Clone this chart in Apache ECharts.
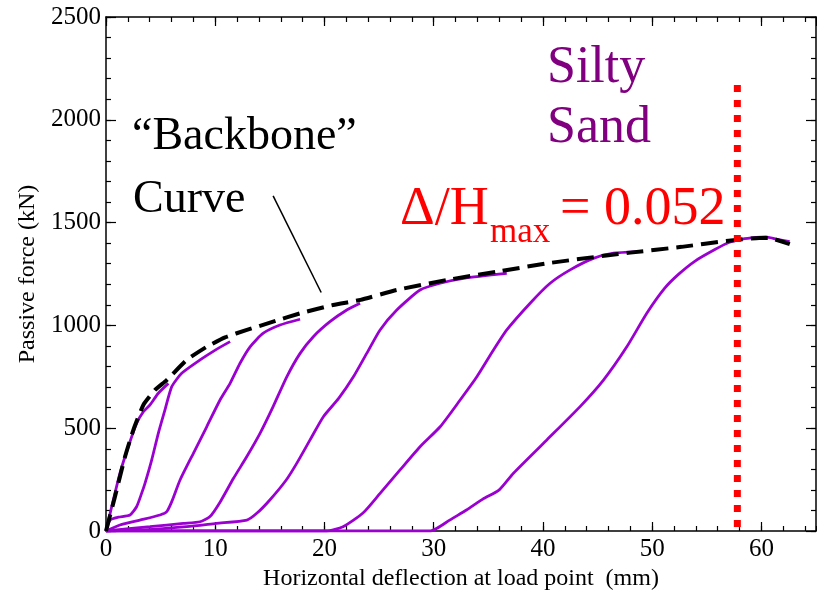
<!DOCTYPE html>
<html>
<head>
<meta charset="utf-8">
<script src="https://cdn.jsdelivr.net/npm/echarts@6/dist/echarts.min.js"></script>
<style>
  html, body { margin: 0; padding: 0; background: #fff; }
  #chart-container { width: 817px; height: 597px; }
</style>
</head>
<body>
<div id="chart-container"></div>
<script>
// deflection (mm), force (kN)
var backbone = [[0,0],[0.82,167],[1.74,361],[2.5,491],[3.42,613],[4.49,686],[5.56,734],[7.39,832],[9.22,896],[10.9,942],[12.9,978],[15.3,1018],[17.8,1059],[20.8,1099],[23.3,1124],[26.6,1172],[31.2,1221],[35.8,1261],[40.4,1302],[45.8,1340],[48.0,1354],[52.7,1382],[57.0,1412],[59.8,1425],[60.7,1425],[62.6,1395]];

var loop1 = [[0,0],[0.52,118],[1.28,282],[2.04,410],[2.81,524],[3.42,580],[4.03,613],[4.79,670],[5.71,718]];
var loop2 = [[0,0],[0.37,53],[1.13,67],[2.2,78],[2.8,118],[3.26,183],[3.57,232],[4.18,345],[4.79,475],[5.4,589],[6.02,702],[6.93,767],[8.61,832],[10.0,880],[11.36,921]];
var loop3 = [[0,0],[1.28,29],[3.11,53],[4.95,78],[5.56,94],[6.02,143],[6.78,248],[8.0,378],[9.22,507],[10.44,637],[11.36,718],[12.27,816],[13.19,896],[14.4,962],[15.93,1002],[17.77,1030]];
var loop4 = [[0,0],[4.03,21],[7.08,37],[8.61,45],[9.52,70],[10.44,140],[11.66,255],[12.88,361],[14.1,475],[15.3,605],[16.55,750],[17.77,864],[18.98,945],[20.5,1018],[22.04,1075],[23.26,1108]];
var loop5 = [[0,0],[3.42,5],[7.39,21],[10.1,37],[12.9,53],[13.8,86],[15.0,151],[16.5,248],[17.46,329],[18.68,443],[19.9,556],[21.3,645],[22.65,750],[23.87,864],[25.09,978],[26.62,1075],[28.75,1172],[30.59,1205],[32.72,1229],[36.69,1253]];
var loop6 = [[0,0],[20.2,0],[21.7,21],[23.5,86],[25.09,183],[26.92,297],[28.75,410],[30.59,507],[32.42,637],[33.95,750],[35.47,880],[36.69,978],[38.83,1108],[40.66,1205],[42.49,1270],[44.62,1326],[46.46,1351],[48.6,1359]];
var loop7 = [[0,0],[29.7,0],[30.3,13],[31.5,54],[33.0,102],[34.5,155],[36.0,200],[37.3,281],[40.36,443],[43.4,605],[45.54,734],[47.68,896],[49.51,1059],[51.15,1181],[52.38,1247],[53.93,1313],[55.78,1370],[57.01,1403],[58.26,1420],[59.5,1428],[60.42,1431],[61.35,1420],[62.59,1407]];

var limitLine = [[57.8,20],[57.8,2170]];
var leaderLine = [[15.3,1630],[19.7,1160]];

var serif = '"Liberation Serif", "Times New Roman", serif';
var purple = "#9a00d0";

var dom = document.getElementById("chart-container");
var myChart = echarts.init(dom, null, { renderer: "canvas" });

function plain(v) { return String(v); }

function xAx(pos, interval, len, main) {
  return {
    type: "value", position: pos, min: 0, max: 65, interval: interval,
    axisLine: { show: main, onZero: false, lineStyle: { color: "#000", width: 1.5 } },
    axisTick: { inside: true, length: len, lineStyle: { color: "#000", width: 1.2 } },
    axisLabel: { show: main && pos === "bottom", margin: 6, showMaxLabel: false, formatter: plain,
      fontFamily: serif, fontSize: 25, color: "#000" },
    splitLine: { show: false },
    name: main && pos === "bottom" ? "Horizontal deflection at load point  (mm)" : "",
    nameLocation: "middle", nameGap: 35,
    nameTextStyle: { fontFamily: serif, fontSize: 24, color: "#000" }
  };
}
function yAx(pos, interval, len, main) {
  return {
    type: "value", position: pos, min: 0, max: 2500, interval: interval,
    axisLine: { show: main, onZero: false, lineStyle: { color: "#000", width: 1.5 } },
    axisTick: { inside: true, length: len, lineStyle: { color: "#000", width: 1.2 } },
    axisLabel: { show: main && pos === "left", margin: 5, formatter: plain,
      fontFamily: serif, fontSize: 25, color: "#000" },
    splitLine: { show: false },
    name: main && pos === "left" ? "Passive force (kN)" : "",
    nameLocation: "middle", nameGap: 64,
    nameTextStyle: { fontFamily: serif, fontSize: 24, color: "#000" }
  };
}

function loopSeries(data) {
  return { type: "line", data: data, symbol: "none", z: 3, smooth: 0.2,
    lineStyle: { color: purple, width: 2.8 } };
}

var option = {
  animation: false,
  grid: { left: 106, right: 1, top: 17, bottom: 66 },
  xAxis: [xAx("bottom", 10, 9, true), xAx("bottom", 2, 5, false), xAx("top", 10, 9, true), xAx("top", 2, 5, false)],
  yAxis: [yAx("left", 500, 10, true), yAx("left", 100, 5, false), yAx("right", 500, 10, true), yAx("right", 100, 5, false)],
  series: [
    loopSeries(loop1), loopSeries(loop2), loopSeries(loop3), loopSeries(loop4),
    loopSeries(loop5), loopSeries(loop6), loopSeries(loop7),
    { type: "line", data: backbone, symbol: "none", z: 4, smooth: 0.15,
      lineStyle: { color: "#000", width: 4, type: [17, 8] } },
    { type: "line", data: limitLine, symbol: "none", z: 5,
      lineStyle: { color: "#ff0000", width: 7, type: [7, 8], cap: "butt" } },
    { type: "line", data: leaderLine, symbol: "none", z: 5,
      lineStyle: { color: "#000", width: 1.5 } }
  ],
  graphic: [
    { type: "text", x: 132, y: 137, style: { text: "\u201cBackbone\u201d", font: "46px " + serif, fill: "#000", align: "left", verticalAlign: "middle" } },
    { type: "text", x: 133, y: 200, style: { text: "Curve", font: "46px " + serif, fill: "#000", align: "left", verticalAlign: "middle" } },
    { type: "text", x: 547, y: 68, style: { text: "Silty", font: "52px " + serif, fill: "#800080", align: "left", verticalAlign: "middle" } },
    { type: "text", x: 547, y: 128, style: { text: "Sand", font: "52px " + serif, fill: "#800080", align: "left", verticalAlign: "middle" } },
    { type: "text", x: 400, y: 210, style: { text: "\u0394/H", font: "54px " + serif, fill: "#ff0000", align: "left", verticalAlign: "middle" } },
    { type: "text", x: 490, y: 233, style: { text: "max", font: "35px " + serif, fill: "#ff0000", align: "left", verticalAlign: "middle" } },
    { type: "text", x: 560, y: 210, style: { text: "= 0.052", font: "54px " + serif, fill: "#ff0000", align: "left", verticalAlign: "middle" } }
  ]
};

myChart.setOption(option);
</script>
</body>
</html>
